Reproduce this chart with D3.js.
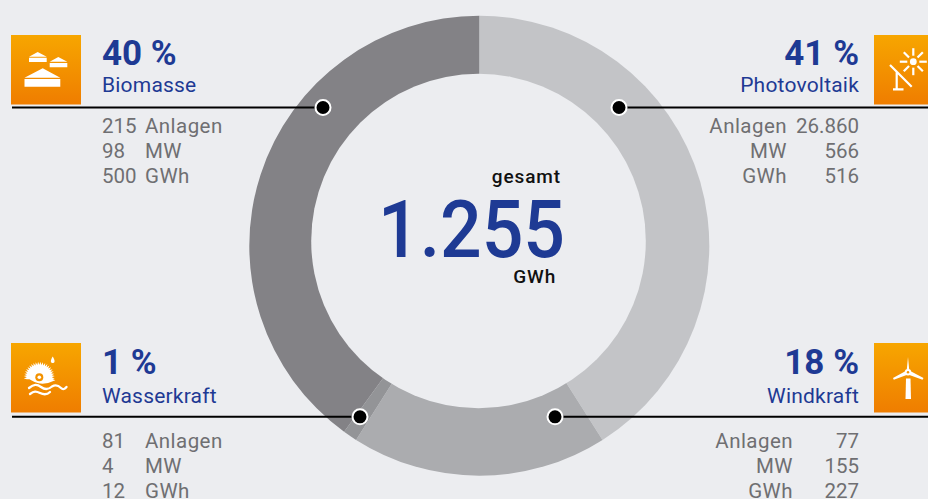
<!DOCTYPE html>
<html>
<head>
<meta charset="utf-8">
<script src="https://cdn.jsdelivr.net/npm/d3@7"></script>
<style>
  html, body { margin: 0; background: #ecedf0; overflow: hidden; }
  text { font-family: Roboto, sans-serif; }
  .pct { font-size: 35px; font-weight: 700; fill: #1e3a94; }
  .name { font-size: 21px; letter-spacing: 0.2px; fill: #1e3a94; }
  .row { font-size: 20.5px; fill: #6f6f72; }
  .rowlabel { letter-spacing: 0.45px; }
</style>
</head>
<body>
<div id="chart"></div>
<script>
// values in ring order, clockwise from the top
const names = ['Photovoltaik', 'Windkraft', 'Wasserkraft', 'Biomasse'];
const shares = [41, 18, 1, 40];
const anlagen = ['26.860', '77', '81', '215'];
const mw = ['566', '155', '4', '98'];
const gwh = ['516', '227', '12', '500'];
const rowLabels = ['Anlagen', 'MW', 'GWh'];
const totalValue = '1.255';
const totalLabel = 'gesamt';
const totalUnit = 'GWh';
const ringColors = ['#c3c4c7', '#abacaf', '#939497', '#838286'];

const width = 928, height = 499;
const cx = 479.3, cy = 245.7, outerR = 230;

// layout of the four text blocks, same order as names
const blocks = [
  {side: 'right', top: 35,  lineY: 107.5, dot: [619, 107.5], pctY: 65,  nameY: 92,  rowY: 133, labelX: 787},
  {side: 'right', top: 343, lineY: 416.8, dot: [555, 416.8], pctY: 374, nameY: 403, rowY: 448, labelX: 793},
  {side: 'left',  top: 343, lineY: 416.8, dot: [360, 416.8], pctY: 374, nameY: 403, rowY: 448},
  {side: 'left',  top: 35,  lineY: 107.5, dot: [323, 107.5], pctY: 65,  nameY: 92,  rowY: 133}
];

const svg = d3.select('#chart').append('svg')
  .attr('width', width).attr('height', height)
  .attr('viewBox', `0 0 ${width} ${height}`)
  .style('display', 'block');

const defs = svg.append('defs');
const grad = defs.append('linearGradient').attr('id', 'iconFill')
  .attr('x1', 0).attr('y1', 0).attr('x2', 0).attr('y2', 1);
grad.append('stop').attr('offset', 0).attr('stop-color', '#f7a600');
grad.append('stop').attr('offset', 1).attr('stop-color', '#ef7d00');

// ring
const pie = d3.pie().sort(null).value(d => d);
const arc = d3.arc().innerRadius(0).outerRadius(outerR);
svg.append('g').attr('transform', `translate(${cx},${cy})`)
  .selectAll('path').data(pie(shares)).join('path')
  .attr('d', arc)
  .attr('fill', (d, i) => ringColors[i]);

// the hole sits a little above the ring centre, as in the original
svg.append('circle')
  .attr('cx', 478.5).attr('cy', 241).attr('r', 167.3)
  .attr('fill', '#ecedf0');

// centre text
svg.append('text').attr('x', 561).attr('y', 183).attr('text-anchor', 'end')
  .style('font-size', '19px').style('font-weight', 500).style('letter-spacing', '0.9px').attr('fill', '#111').text(totalLabel);
svg.append('text').attr('x', 378).attr('y', 257)
  .attr('textLength', 187).attr('lengthAdjust', 'spacingAndGlyphs')
  .style('font-size', '80px').style('font-weight', 500).attr('fill', '#1e3a94').text(totalValue);
svg.append('text').attr('x', 556).attr('y', 283).attr('text-anchor', 'end')
  .style('font-size', '19px').style('font-weight', 500).style('letter-spacing', '0.8px').attr('fill', '#111').text(totalUnit);

// icons, drawn in a 70x70 box
const icons = {
  Biomasse(g) {
    [[18, 35.7, 26.7, 17, 21.7, 22.7, 27], [38.7, 56.3, 47.3, 22, 26.7, 28, 32.3], [13.5, 49.3, 31.7, 33.3, 42.7, 44, 51.7]]
      .forEach(([x0, x1, ax, ay, by, ry0, ry1]) => {
        g.append('path').attr('fill', '#fff')
          .attr('d', `M${x0},${by}L${ax},${ay}L${x1},${by}Z M${x0},${ry0}H${x1}V${ry1}H${x0}Z`);
      });
  },
  Photovoltaik(g) {
    const sx = 39.3, sy = 26.7;
    g.append('circle').attr('cx', sx).attr('cy', sy).attr('r', 3.4).attr('fill', '#fff');
    d3.range(8).forEach(i => {
      const a = i * Math.PI / 4;
      g.append('line')
        .attr('x1', sx + 6 * Math.cos(a)).attr('y1', sy + 6 * Math.sin(a))
        .attr('x2', sx + 13.5 * Math.cos(a)).attr('y2', sy + 13.5 * Math.sin(a))
        .attr('stroke', '#fff').attr('stroke-width', 2.2);
    });
    g.append('path').attr('fill', 'none').attr('stroke', '#fff').attr('stroke-width', 2.2)
      .attr('d', 'M16,30L37.7,51.7M22.7,37V54.3M19,54.3H29.5');
  },
  Windkraft(g) {
    g.append('path').attr('fill', '#fff').attr('d', 'M32,35.5H36.5L37,56H31.5Z');
    g.append('path').attr('fill', '#fff')
      .attr('d', 'M34,14L35.3,27.5L49.5,35L48.5,36.8L34,31.5L19.8,36.8L19,35L32.7,27.5Z');
    g.append('circle').attr('cx', 34).attr('cy', 29.3).attr('r', 3.2).attr('fill', '#fff');
    g.append('circle').attr('cx', 34).attr('cy', 29.3).attr('r', 1.2).attr('fill', '#f39200');
  },
  Wasserkraft(g) {
    const gx = 28.3, gy = 34.3, teeth = 22;
    const pts = d3.range(teeth * 2 + 1).map(i => {
      const a = Math.PI * (0.95 + i / (teeth * 2) * 1.1);
      const r = i % 2 ? 15.5 : 12.5;
      return [gx + r * Math.cos(a), gy + r * Math.sin(a)];
    });
    g.append('path').attr('fill', '#fff').attr('d', d3.line()(pts) + 'Z');
    g.append('path').attr('fill', '#fff').attr('d', `M${gx - 12},${gy}Q${gx},${gy + 11} ${gx + 16},${gy + 3}L${gx},${gy - 4}Z`);
    g.append('circle').attr('cx', gx).attr('cy', gy).attr('r', 4).attr('fill', '#f39200');
    g.append('circle').attr('cx', gx).attr('cy', gy).attr('r', 1.8).attr('fill', '#fff');
    g.append('path').attr('fill', '#fff').attr('d', 'M41.7,13.5C44.5,18 43.8,20 41.7,20C39.6,20 38.9,18 41.7,13.5Z');
    g.append('path').attr('fill', 'none').attr('stroke', '#fff').attr('stroke-width', 2.3).attr('stroke-linecap', 'round')
      .attr('d', 'M18,45C23,41 26,41 30,44C34,47 37,47 41,43.5C45,41 48,43 50,45C52,47 54,46 55.5,44');
    g.append('path').attr('fill', 'none').attr('stroke', '#fff').attr('stroke-width', 2.3).attr('stroke-linecap', 'round')
      .attr('d', 'M19,51C23,48 25,48 29,50C33,52 36,52 39,49');
  }
};

// blocks
names.forEach((name, i) => {
  const b = blocks[i];
  const g = svg.append('g');
  const left = b.side === 'left';
  const iconX = left ? 11 : 874;

  g.append('rect').attr('x', iconX).attr('y', b.top).attr('width', 70).attr('height', 69.5)
    .attr('fill', 'url(#iconFill)');
  icons[name](g.append('g').attr('transform', `translate(${iconX},${b.top})`));

  g.append('line')
    .attr('x1', left ? 12 : b.dot[0]).attr('x2', left ? b.dot[0] : width)
    .attr('y1', b.lineY).attr('y2', b.lineY)
    .attr('stroke', '#000').attr('stroke-width', 2);
  g.append('circle').attr('cx', b.dot[0]).attr('cy', b.dot[1]).attr('r', 7.5)
    .attr('fill', '#000').attr('stroke', '#fff').attr('stroke-width', 2);

  const anchor = left ? 'start' : 'end';
  const tx = left ? 102 : 859;
  g.append('text').attr('class', 'pct').attr('x', tx).attr('y', b.pctY).attr('text-anchor', anchor)
    .text(`${shares[i]} %`);
  g.append('text').attr('class', 'name').attr('x', tx).attr('y', b.nameY).attr('text-anchor', anchor)
    .text(name);

  [anlagen[i], mw[i], gwh[i]].forEach((v, j) => {
    const y = b.rowY + j * 25.2;
    g.append('text').attr('class', 'row').attr('x', tx).attr('y', y).attr('text-anchor', anchor).text(v);
    g.append('text').attr('class', 'row rowlabel').attr('x', left ? 145 : b.labelX).attr('y', y).attr('text-anchor', anchor).text(rowLabels[j]);
  });
});
</script>
</body>
</html>
